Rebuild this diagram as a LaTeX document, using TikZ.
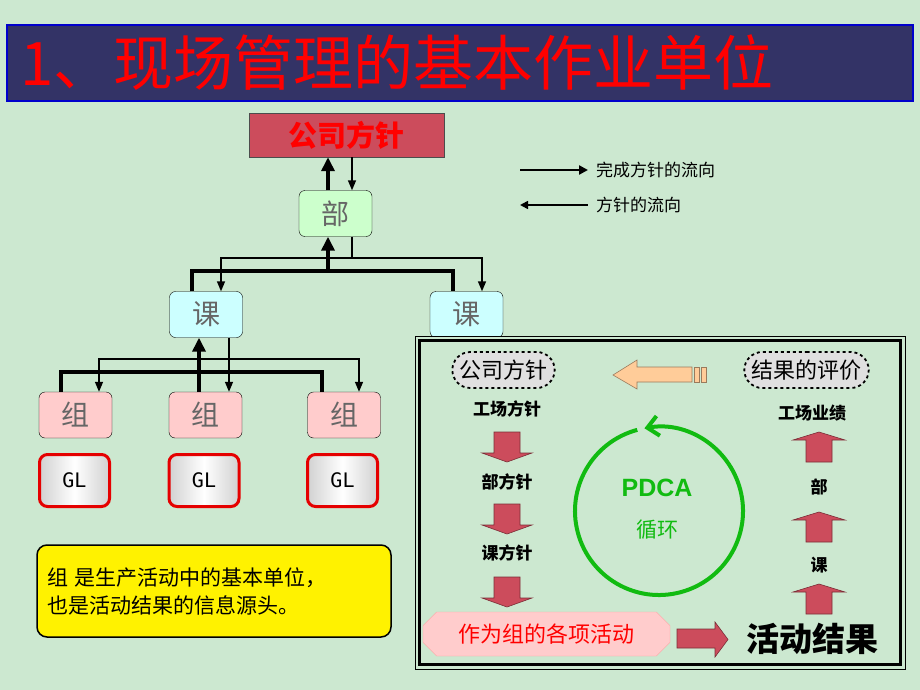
\documentclass[tikz,border=0pt]{standalone}
\usepackage{fontspec}
\setmainfont{Noto Sans CJK SC}
\newfontfamily\glfont{DejaVu Sans Mono}
\newfontfamily\pdcafont{Liberation Sans}
\usetikzlibrary{arrows.meta,shapes.misc}

\definecolor{bgcol}{RGB}{204,232,208}
\definecolor{navy}{RGB}{51,51,102}
\definecolor{crim}{RGB}{204,76,92}
\definecolor{mint}{RGB}{204,255,204}
\definecolor{aqua}{RGB}{204,255,255}
\definecolor{rose}{RGB}{255,204,204}
\definecolor{peach}{RGB}{255,204,153}
\definecolor{pdcagreen}{RGB}{17,187,17}

\begin{document}
\begin{tikzpicture}[x=1pt,y=-1pt,
    unit/.style={draw=black,rounded corners=6pt,minimum width=73pt,minimum height=46pt,
      inner sep=0pt,text=black!60,font=\fontsize{28}{30}\selectfont},
    glbox/.style={draw=red!90!black,line width=3pt,rounded corners=8pt,minimum width=70pt,
      minimum height=52pt,left color=black!18,right color=black!18,middle color=white,
      font=\glfont\fontsize{20}{22}\selectfont},
    bus/.style={line width=4pt},
    pol/.style={line width=1.5pt},
    upflow/.style={-{Triangle[width=13pt,length=14pt]}},
    downflow/.style={-{Triangle[width=8pt,length=10pt]}},
    dashbox/.style={rounded rectangle,draw=black,dashed,line width=1.8pt,fill=black!12,
      minimum height=36pt,inner xsep=4pt,font=\fontsize{22}{24}\selectfont},
    steptxt/.style={font=\bfseries\fontsize{17}{19}\selectfont},
    blk/.style={fill=crim,draw=crim!60!black,line width=0.6pt}]

  % background
  \fill[bgcol] (0,0) rectangle (920,690);
  \useasboundingbox (0,0) rectangle (920,690);

  % title
  \node[fill=navy,draw=blue!80!black,line width=1.2pt,minimum width=906pt,minimum height=76pt,
    text width=880pt,inner xsep=13pt,align=left,text=red,
    font=\fontsize{60}{62}\selectfont] (title) at (460,63) {1、现场管理的基本作业单位};

  % organisation tree
  \node[fill=crim,draw=black!70,minimum width=195pt,minimum height=44pt,inner sep=0pt,
    text=red,font=\bfseries\fontsize{29}{31}\selectfont] (gsfz) at (346.5,135) {公司方针};
  \node[unit,fill=mint] (bu) at (335.5,213.5) {部};
  \node[unit,fill=aqua] (ke1) at (206,314.5) {课};
  \node[unit,fill=aqua] (ke2) at (466.5,314.5) {课};
  \node[unit,fill=rose] (zu1) at (75.5,415) {组};
  \node[unit,fill=rose] (zu2) at (205.5,415) {组};
  \node[unit,fill=rose] (zu3) at (344,415) {组};
  \node[glbox] (gl1) at (74.5,480.5) {GL};
  \node[glbox] (gl2) at (204,480.5) {GL};
  \node[glbox] (gl3) at (342.5,480.5) {GL};

  \coordinate (kb) at (328,271);
  \coordinate (kt) at (352,258);
  \coordinate (zb) at (199,372);
  \coordinate (zt) at (229,359);

  \draw[bus,upflow] ([xshift=-7.5pt]bu.north) -- ([xshift=-18.5pt]gsfz.south);
  \draw[pol,downflow] ([xshift=5.5pt]gsfz.south) -- ([xshift=16.5pt]bu.north);

  \draw[bus] ([xshift=-14pt]ke1.north) |- (kb) -| ([xshift=-13.5pt]ke2.north);
  \draw[bus,upflow] (kb) -- (kb |- bu.south);
  \draw[pol] ([xshift=16.5pt]bu.south) -- (kt);
  \draw[pol,downflow] (kt) -| ([xshift=15pt]ke1.north);
  \draw[pol,downflow] (kt) -| ([xshift=15.5pt]ke2.north);

  \draw[bus] ([xshift=-14.5pt]zu1.north) |- (zb) -| ([xshift=-22pt]zu3.north);
  \draw[bus,upflow] ([xshift=-6.5pt]zu2.north) -- ([xshift=-7pt]ke1.south);
  \draw[pol,downflow] ([xshift=23pt]ke1.south) -- ([xshift=23.5pt]zu2.north);
  \draw[pol,downflow] (zt) -| ([xshift=23.5pt]zu1.north);
  \draw[pol,downflow] (zt) -| ([xshift=15pt]zu3.north);

  % note
  \node[draw=black,line width=1.5pt,fill=yellow,rounded corners=10pt,minimum width=354pt,
    minimum height=92pt,text width=334pt,inner xsep=10pt,align=left,
    font=\fontsize{21}{28}\selectfont] (note) at (214,591)
    {组 是生产活动中的基本单位，\\也是活动结果的信息源头。};

  % legend
  \node[anchor=west,inner sep=0pt,font=\fontsize{17}{19}\selectfont] (lg1) at (596,170) {完成方针的流向};
  \node[anchor=west,inner sep=0pt,font=\fontsize{17}{19}\selectfont] (lg2) at (596,205) {方针的流向};
  \coordinate (la1) at (520,170);
  \coordinate (la2) at (520,205);
  \draw[line width=2.6pt,-{Triangle[width=9pt,length=9pt]}] (la1) -- ([xshift=-8pt]lg1.west);
  \draw[line width=1.6pt,{Triangle[width=8pt,length=8pt]}-] (la2) -- ([xshift=-8pt]lg2.west);

  % PDCA frame
  \draw[line width=1pt,fill=bgcol] (415,336) rectangle (905,669);
  \draw[line width=3pt] (419.5,340.5) rectangle (900.5,664.5);

  \node[dashbox] (pgs) at (503.5,370) {公司方针};
  \node[dashbox] (pres) at (806.5,370) {结果的评价};
  \draw[fill=peach,draw=peach!60!black,line width=0.6pt]
    (613,375) -- (637,360) -- (637,367) -- (692,367) -- (692,382) -- (637,382) -- (637,389) -- cycle;
  \draw[fill=peach,draw=peach!60!black,line width=0.6pt] (694,367) rectangle (699,382);
  \draw[fill=peach,draw=peach!60!black,line width=0.6pt] (701,367) rectangle (706,382);

  \node[steptxt] (fz0) at (507,409) {工场方针};
  \node[steptxt] (fz1) at (507,482) {部方针};
  \node[steptxt] (fz2) at (507,553) {课方针};
  \node[steptxt] (yj0) at (812,413) {工场业绩};
  \node[steptxt] (yj1) at (819,487) {部};
  \node[steptxt] (yj2) at (819,565) {课};

  \foreach \t in {432,504,577}
    \draw[blk] (494,\t) -- (520,\t) -- (520,\t+21) -- (532,\t+21) -- (507,\t+30)
      -- (482,\t+21) -- (494,\t+21) -- cycle;
  \foreach \t in {432,512,584}
    \draw[blk] (819,\t) -- (845,\t+8) -- (832,\t+8) -- (832,\t+30) -- (806,\t+30)
      -- (806,\t+8) -- (793,\t+8) -- cycle;

  \node[chamfered rectangle,chamfered rectangle xsep=10pt,fill=rose,draw=rose!80!red,
    minimum width=247pt,minimum height=44pt,inner sep=0pt,text=red,
    font=\fontsize{22}{24}\selectfont] (act) at (546.5,634) {作为组的各项活动};
  \node[font=\bfseries\fontsize{33}{35}\selectfont] (res) at (812,639) {活动结果};
  \draw[blk] (677,629) -- (715,629) -- (715,622) -- (728,639.5) -- (715,657) -- (715,648)
    -- (677,648) -- cycle;

  % PDCA cycle
  \coordinate (pdc) at (659,511);
  \draw[pdcagreen,line width=4pt,-{Straight Barb[width=20pt,length=11pt]}]
    (pdc) ++(-105:84) arc[start angle=-105,end angle=-460,radius=84];
  \node[text=pdcagreen,font=\pdcafont\bfseries\fontsize{25}{27}\selectfont] (pdca) at (657,488) {PDCA};
  \node[text=pdcagreen,font=\fontsize{21}{23}\selectfont] (xh) at (657,530) {循环};
\end{tikzpicture}
\end{document}
